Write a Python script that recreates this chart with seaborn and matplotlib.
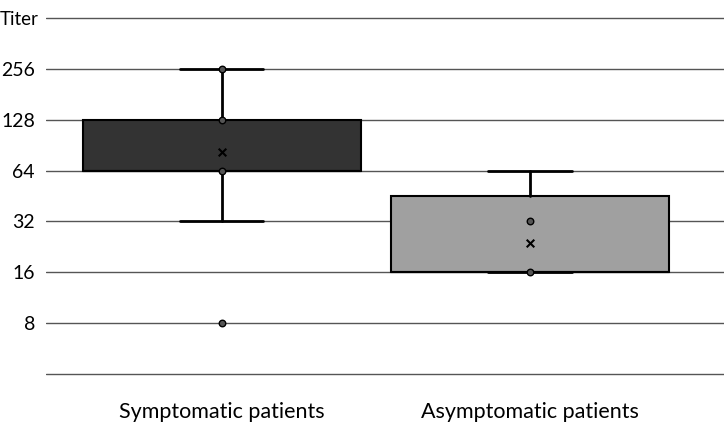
import matplotlib
matplotlib.use("Agg")
import matplotlib.pyplot as plt
import matplotlib.transforms as mtransforms
import numpy as np
import pandas as pd
import seaborn as sns

# values (titers, log2 axis)
groups = ["Symptomatic patients", "Asymptomatic patients"]
box_colors = ["#333333", "#a0a0a0"]
q1 = [64, 16]
q3 = [128, 45]
medians = [64, 16]
whisker_low = [32, 16]
whisker_high = [256, 64]
means = [82, 24]
sympt_points = [256, 128, 64, 8]
asympt_points = [32, 16]
ytick_values = [4, 8, 16, 32, 64, 128, 256, 512]
ytick_labels = ["", "8", "16", "32", "64", "128", "256", "Titer"]

sns.set_theme(style="white")
plt.rcParams["font.family"] = ["Lato", "DejaVu Sans"]

fig = plt.figure(figsize=(7.24, 4.23), dpi=100)
W, H = 724, 423
pad = 2 / 50.86  # small margin (in doublings) so edge gridlines are not clipped
top_px, bot_px = 18 - 2, 374 + 2
ax = fig.add_axes([46 / W, 1 - bot_px / H, 1 - 46 / W, (bot_px - top_px) / H])

stats = [
    dict(label=g, q1=a, q3=b, med=m, whislo=lo, whishi=hi, fliers=[])
    for g, a, b, m, lo, hi in zip(groups, q1, q3, medians, whisker_low, whisker_high)
]
bp = ax.bxp(
    stats,
    positions=[0, 1],
    widths=0.9,
    patch_artist=True,
    showfliers=False,
    boxprops=dict(edgecolor="black", linewidth=1.5),
    whiskerprops=dict(color="black", linewidth=2),
    capprops=dict(color="black", linewidth=2),
    medianprops=dict(color="black", linewidth=1.5),
    capwidths=0.27,
    zorder=3,
)
for patch, c in zip(bp["boxes"], box_colors):
    patch.set_facecolor(c)

pts = pd.DataFrame(
    {
        "pos": [0] * len(sympt_points) + [1] * len(asympt_points),
        "titer": sympt_points + asympt_points,
    }
)
sns.scatterplot(
    data=pts, x="pos", y="titer", marker="o", s=22, color="#555555",
    edgecolor="black", linewidth=1, zorder=5, ax=ax,
)
mean_df = pd.DataFrame({"pos": [0, 1], "titer": means})
sns.scatterplot(
    data=mean_df, x="pos", y="titer", marker="x", s=30, color="black",
    linewidth=1.5, zorder=5, ax=ax,
)

ax.set_yscale("log", base=2)
ax.set_ylim(4 * 2 ** (-pad), 512 * 2 ** pad)
ax.set_xlim(-0.571, 1.63)
ax.set_yticks(ytick_values)
ax.set_yticklabels(ytick_labels)
ax.minorticks_off()
ax.set_xticks([0, 1])
ax.set_xticklabels(groups)
ax.tick_params(axis="y", length=0, pad=8, labelsize=14, labelcolor="black")
ax.tick_params(axis="x", length=0, pad=19, labelsize=15.5, labelcolor="black")
ax.grid(axis="y", color="#555555", linewidth=1, zorder=0)
ax.grid(axis="x", visible=False)
ax.set_axisbelow(True)
ax.set_xlabel("")
ax.set_ylabel("")
sns.despine(ax=ax, left=True, bottom=True)

# the "Titer" label sits a little further right than the numbers
titer_label = ax.get_yticklabels()[-1]
titer_label.set_fontsize(13.5)
titer_label.set_transform(
    titer_label.get_transform() + mtransforms.ScaledTranslation(4 / 100, 0, fig.dpi_scale_trans)
)

fig.savefig("out.png", dpi=100)
